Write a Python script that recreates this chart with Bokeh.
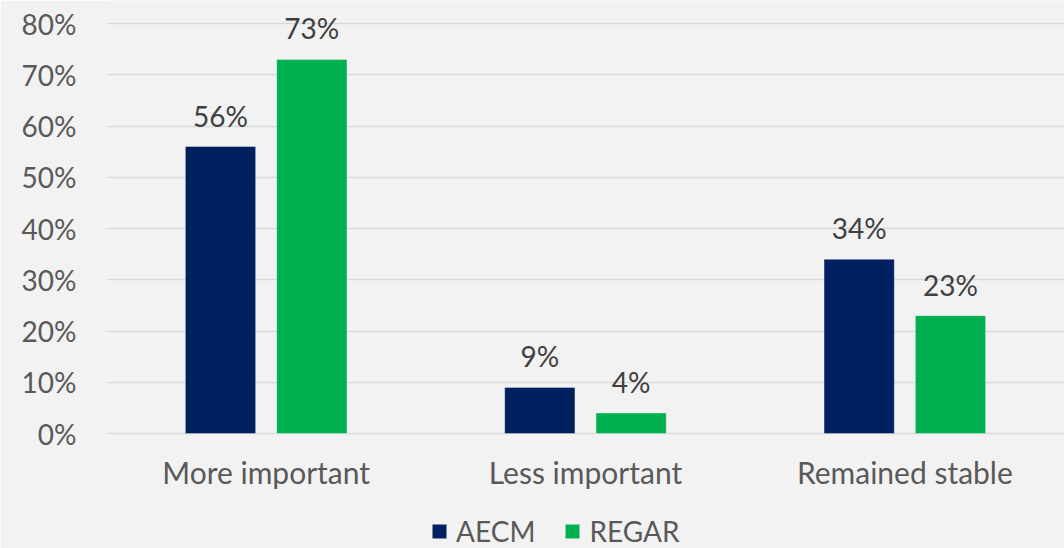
from bokeh.plotting import figure
from bokeh.models import (ColumnDataSource, FactorRange, FixedTicker, PrintfTickFormatter,
                          Legend, LegendItem)
from bokeh.transform import dodge
from bokeh.core.properties import value
from bokeh.embed import file_html
from bokeh.resources import INLINE

categories = ["More important", "Less important", "Remained stable"]
aecm = [56, 9, 34]
regar = [73, 4, 23]
series_names = ["AECM", "REGAR"]
y_ticks = [0, 10, 20, 30, 40, 50, 60, 70, 80]

NAVY = "#002060"
GREEN = "#00B050"
BG = "#F2F2F2"
FONT = "Lato"
FS = "28px"

W, H = 1064, 548
TOP, ZERO_Y = 23, 433          # pixel rows of the 80% and 0% gridlines
SCALE = (ZERO_Y - TOP) / 80.0  # px per percentage point
Y_MAX = 80 + TOP / SCALE               # frame reaches the top edge
Y_MIN = -(H - ZERO_Y) / SCALE          # frame reaches the bottom edge

src = ColumnDataSource(dict(
    cat=categories,
    aecm=aecm,
    regar=regar,
    base=[0] * len(categories),
    aecm_lbl=[f"{v}%" for v in aecm],
    regar_lbl=[f"{v}%" for v in regar],
))

p = figure(x_range=FactorRange(*categories), y_range=(Y_MIN, Y_MAX),
           width=W, height=H, output_backend="svg", toolbar_location=None,
           background_fill_color=BG, border_fill_color=BG,
           min_border_left=106, min_border_right=0, min_border_top=0, min_border_bottom=0)
p.outline_line_color = None
p.x_range.range_padding = 0

r1 = p.vbar(x=dodge("cat", -0.143, range=p.x_range), top="aecm", width=0.22, source=src,
            fill_color=NAVY, line_color="#FFFFFF", line_alpha=0.35, line_width=1)
r2 = p.vbar(x=dodge("cat", 0.143, range=p.x_range), top="regar", width=0.22, source=src,
            fill_color=GREEN, line_color="#FFFFFF", line_alpha=0.35, line_width=1)

p.text(x=dodge("cat", -0.143, range=p.x_range), y="aecm", text="aecm_lbl", source=src,
       text_align="center", text_baseline="alphabetic", y_offset=-31,
       text_font=value(FONT), text_font_size=FS, text_color="#404040")
p.text(x=dodge("cat", 0.143, range=p.x_range), y="regar", text="regar_lbl", source=src,
       text_align="center", text_baseline="alphabetic", y_offset=-31,
       text_font=value(FONT), text_font_size=FS, text_color="#404040")

# category labels under the zero line
p.text(x="cat", y="base", text="cat", source=src,
       text_align="center", text_baseline="alphabetic", y_offset=38,
       text_font=value(FONT), text_font_size="30px", text_color="#595959")

p.xaxis.visible = False
p.yaxis.ticker = FixedTicker(ticks=y_ticks)
p.yaxis.formatter = PrintfTickFormatter(format="%d%%")
p.yaxis.axis_line_color = None
p.yaxis.major_tick_line_color = None
p.yaxis.minor_tick_line_color = None
p.yaxis.major_label_text_font = FONT
p.yaxis.major_label_text_font_size = FS
p.yaxis.major_label_text_color = "#595959"
p.yaxis.major_label_standoff = 24

p.xgrid.grid_line_color = None
p.ygrid.ticker = FixedTicker(ticks=y_ticks)
p.ygrid.grid_line_color = "#D9D9D9"
p.ygrid.grid_line_width = 1.5

legend = Legend(items=[LegendItem(label=series_names[0], renderers=[r1]),
                       LegendItem(label=series_names[1], renderers=[r2])],
                orientation="horizontal", location=(324, 0))
legend.label_text_font = FONT
legend.label_text_font_size = FS
legend.label_text_color = "#595959"
legend.label_height = 34
legend.glyph_width = 18
legend.glyph_height = 18
legend.label_standoff = 8
legend.spacing = 28
legend.padding = 0
legend.margin = 0
legend.background_fill_alpha = 0
legend.border_line_alpha = 0
p.add_layout(legend)

open("out.html", "w").write(file_html(p, INLINE))
